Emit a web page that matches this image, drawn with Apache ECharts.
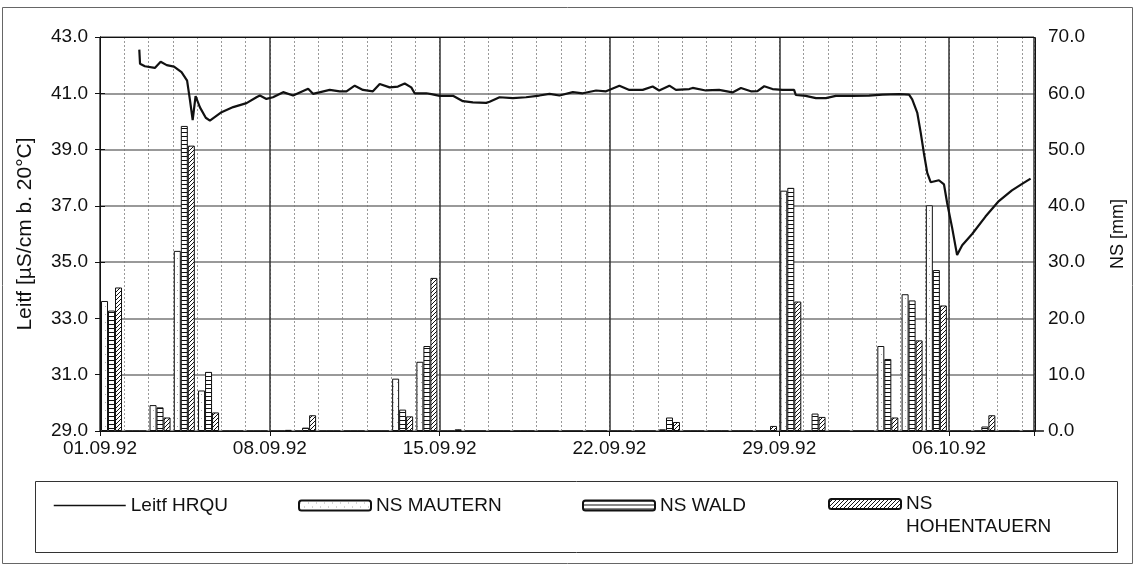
<!DOCTYPE html>
<html>
<head>
<meta charset="utf-8">
<script src="https://cdn.jsdelivr.net/npm/echarts@6/dist/echarts.min.js"></script>
<style>
  html, body { margin: 0; padding: 0; background: #fff; }
  #chart { width: 1135px; height: 566px; }
</style>
</head>
<body>
<div id="chart"></div>
<script>
// Weekly date labels on the time axis (days counted from 01.09.92)
const dateTicks = ['01.09.92', '08.09.92', '15.09.92', '22.09.92', '29.09.92', '06.10.92'];

// Daily precipitation [mm], one value per day starting 01.09.92
const nsMautern = [
  23.1, 0, 4.6, 32.0, 7.2, 0, 0, 0, 0, 0,
  0, 0, 9.3, 12.3, 0, 0, 0, 0, 0, 0,
  0, 0, 0, 0.3, 0, 0, 0, 0, 42.7, 0,
  0, 0, 15.1, 24.3, 40.1, 0, 0, 0, 0
];
const nsWald = [
  21.4, 0, 4.2, 54.2, 10.5, 0, 0, 0, 0.6, 0,
  0, 0, 3.8, 15.1, 0, 0, 0, 0, 0, 0,
  0, 0, 0, 2.4, 0, 0, 0, 0, 43.2, 3.1,
  0, 0, 12.8, 23.2, 28.6, 0, 0.8, 0, 0
];
const nsHohentauern = [
  25.5, 0, 2.4, 50.7, 3.3, 0, 0, 0.2, 2.8, 0,
  0, 0, 2.6, 27.2, 0.3, 0, 0, 0, 0, 0,
  0, 0, 0, 1.6, 0, 0, 0, 0.9, 23.0, 2.5,
  0, 0, 2.4, 16.1, 22.3, 0, 2.8, 0, 0
];

// Conductivity at HRQU: time in days after 01.09.92 00:00, value in µS/cm
const leitfTime = [
  1.62, 1.65, 1.85, 2.26, 2.50, 2.75, 3.05, 3.36, 3.59, 3.71,
  3.82, 3.94, 4.12, 4.36, 4.53, 5.01, 5.49, 6.04, 6.45, 6.59,
  6.86, 7.13, 7.55, 7.96, 8.58, 8.78, 9.47, 9.88, 10.16, 10.50,
  10.84, 11.25, 11.53, 11.94, 12.28, 12.56, 12.83, 12.97, 13.45, 13.66,
  14.00, 14.55, 14.96, 15.37, 15.92, 16.06, 16.47, 17.02, 17.56, 18.11,
  18.53, 18.94, 19.49, 19.90, 20.45, 20.86, 21.41, 21.82, 22.37, 22.78,
  23.05, 23.47, 23.74, 24.29, 24.43, 24.97, 25.52, 26.07, 26.42, 26.83,
  27.10, 27.38, 27.72, 28.13, 28.61, 28.68, 29.09, 29.51, 29.92, 30.33,
  31.01, 31.70, 32.25, 32.94, 33.35, 33.48, 33.69, 33.83, 33.96, 34.10,
  34.24, 34.58, 34.79, 34.92, 35.13, 35.33, 35.54, 35.95, 36.50, 37.05,
  37.59, 38.01, 38.36
];
const leitfHRQU = [
  42.55, 42.05, 41.96, 41.90, 42.12, 42.00, 41.95, 41.75, 41.45, 40.75,
  40.05, 40.90, 40.50, 40.13, 40.03, 40.33, 40.51, 40.65, 40.86, 40.92,
  40.80, 40.86, 41.04, 40.92, 41.16, 40.98, 41.12, 41.07, 41.07, 41.27,
  41.12, 41.07, 41.33, 41.21, 41.24, 41.35, 41.21, 41.00, 41.00, 40.97,
  40.91, 40.91, 40.72, 40.68, 40.66, 40.70, 40.86, 40.83, 40.86, 40.92,
  40.98, 40.92, 41.04, 41.00, 41.10, 41.07, 41.27, 41.12, 41.12, 41.24,
  41.10, 41.27, 41.12, 41.15, 41.19, 41.10, 41.12, 41.03, 41.19, 41.07,
  41.08, 41.25, 41.15, 41.12, 41.12, 40.94, 40.91, 40.83, 40.83, 40.91,
  40.91, 40.92, 40.95, 40.97, 40.95, 40.78, 40.30, 39.60, 38.88, 38.17,
  37.84, 37.91, 37.76, 37.10, 36.20, 35.25, 35.60, 36.00, 36.62, 37.17,
  37.55, 37.78, 37.97
];

const FONT = "'Liberation Sans', Arial, sans-serif";
const INK = '#111';

// Small repeating canvas tiles used as bar fills
function tile(size, draw) {
  const c = document.createElement('canvas');
  c.width = size; c.height = size;
  const g = c.getContext('2d');
  g.fillStyle = '#fff';
  g.fillRect(0, 0, size, size);
  g.fillStyle = INK;
  draw(g, size);
  return { image: c, repeat: 'repeat' };
}
const fillMautern = tile(8, (g) => {
  g.fillStyle = '#aaa';
  g.fillRect(1, 2, 1, 1);
  g.fillRect(5, 6, 1, 1);
});
const fillWald = tile(4, (g, s) => {
  g.fillRect(0, 0, s, 1);
});
const fillHohentauern = tile(4, (g, s) => {
  for (let i = 0; i < s; i++) g.fillRect(i, s - 1 - i, 1, 1);
});

// Bars sit in the middle of their day slot
const daySlot = (arr) => arr.map((v, i) => [i + 0.475, v]);

const barStyle = (fill) => ({ color: fill, borderColor: INK, borderWidth: 1 });

const chart = echarts.init(document.getElementById('chart'), null, { renderer: 'canvas' });

const legendBase = {
  orient: 'horizontal',
  itemWidth: 72,
  itemHeight: 10,
  selectedMode: false,
  textStyle: { fontFamily: FONT, fontSize: 19, color: INK }
};

chart.setOption({
  animation: false,
  backgroundColor: '#fff',
  grid: { left: 100, right: 100, top: 37, bottom: 135 },
  xAxis: [
    {
      type: 'value',
      min: 0,
      max: 38.5,
      interval: 7,
      axisLine: { show: true, onZero: false, lineStyle: { color: INK, width: 1 } },
      axisTick: { show: true, length: 5, lineStyle: { color: INK } },
      axisLabel: {
        fontFamily: FONT, fontSize: 19, color: INK, margin: 8,
        formatter: (v) => (v % 7 === 0 && dateTicks[v / 7] !== undefined) ? dateTicks[v / 7] : ''
      },
      splitLine: { show: true, lineStyle: { color: '#333', width: 1.5 } }
    },
    {
      // daily dotted grid
      type: 'value',
      min: 0,
      max: 38.5,
      interval: 1,
      position: 'bottom',
      z: -1,
      axisLine: { show: false },
      axisTick: { show: false },
      axisLabel: { show: false },
      splitLine: { show: true, lineStyle: { color: '#999', width: 1, type: [2, 2] } }
    }
  ],
  yAxis: [
    {
      type: 'value',
      min: 29,
      max: 43,
      interval: 2,
      name: 'Leitf [µS/cm b. 20°C]',
      nameLocation: 'middle',
      nameGap: 64,
      nameRotate: 90,
      nameTextStyle: { fontFamily: FONT, fontSize: 21, color: INK },
      axisLine: { show: true, lineStyle: { color: INK } },
      axisTick: { show: true, length: 5, lineStyle: { color: INK } },
      axisLabel: { fontFamily: FONT, fontSize: 19, color: INK, margin: 12, formatter: (v) => v.toFixed(1) },
      splitLine: { show: true, lineStyle: { color: '#777', width: 1.5 } }
    },
    {
      type: 'value',
      min: 0,
      max: 70,
      interval: 10,
      position: 'right',
      name: 'NS [mm]',
      nameLocation: 'middle',
      nameGap: 75,
      nameRotate: 90,
      nameTextStyle: { fontFamily: FONT, fontSize: 18, color: INK },
      axisLine: { show: true, lineStyle: { color: INK } },
      axisTick: { show: true, length: 5, lineStyle: { color: INK } },
      axisLabel: { fontFamily: FONT, fontSize: 19, color: INK, margin: 14, formatter: (v) => v.toFixed(1) },
      splitLine: { show: false }
    }
  ],
  legend: [
    Object.assign({}, legendBase, {
      left: 48, top: 491, data: ['Leitf HRQU'],
      itemStyle: { opacity: 0 },
      lineStyle: { width: 1.5, color: INK }
    }),
    Object.assign({}, legendBase, { left: 293, top: 491, data: ['NS MAUTERN'] }),
    Object.assign({}, legendBase, { left: 577, top: 491, data: ['NS WALD'] }),
    Object.assign({}, legendBase, {
      left: 823, top: 464.5, data: ['NS HOHENTAUERN'],
      formatter: () => ' \nNS\nHOHENTAUERN',
      textStyle: { fontFamily: FONT, fontSize: 19, color: INK, lineHeight: 23 }
    })
  ],
  graphic: [
    {
      type: 'rect', silent: true, z: 0,
      shape: { x: 35.5, y: 481.5, width: 1082, height: 71 },
      style: { fill: 'none', stroke: '#333', lineWidth: 1 }
    },
    {
      type: 'rect', silent: true, z: 0,
      shape: { x: 2.5, y: 7.5, width: 1130, height: 556 },
      style: { fill: 'none', stroke: '#666', lineWidth: 1 }
    },
    {
      // plot frame
      type: 'rect', silent: true, z: 10,
      shape: { x: 100.5, y: 37.5, width: 935, height: 394 },
      style: { fill: 'none', stroke: INK, lineWidth: 1 }
    }
  ],
  series: [
    {
      name: 'NS MAUTERN', type: 'bar', xAxisIndex: 0, yAxisIndex: 1,
      barWidth: 7, barGap: '0%',
      itemStyle: barStyle(fillMautern),
      data: daySlot(nsMautern)
    },
    {
      name: 'NS WALD', type: 'bar', xAxisIndex: 0, yAxisIndex: 1,
      barWidth: 7, barGap: '0%',
      itemStyle: barStyle(fillWald),
      data: daySlot(nsWald)
    },
    {
      name: 'NS HOHENTAUERN', type: 'bar', xAxisIndex: 0, yAxisIndex: 1,
      barWidth: 7, barGap: '0%',
      itemStyle: barStyle(fillHohentauern),
      data: daySlot(nsHohentauern)
    },
    {
      name: 'Leitf HRQU', type: 'line', xAxisIndex: 0, yAxisIndex: 0,
      symbol: 'none', showSymbol: false, z: 5,
      lineStyle: { color: INK, width: 2.2 },
      itemStyle: { color: INK },
      data: leitfTime.map((t, i) => [t, leitfHRQU[i]])
    }
  ]
});
</script>
</body>
</html>
